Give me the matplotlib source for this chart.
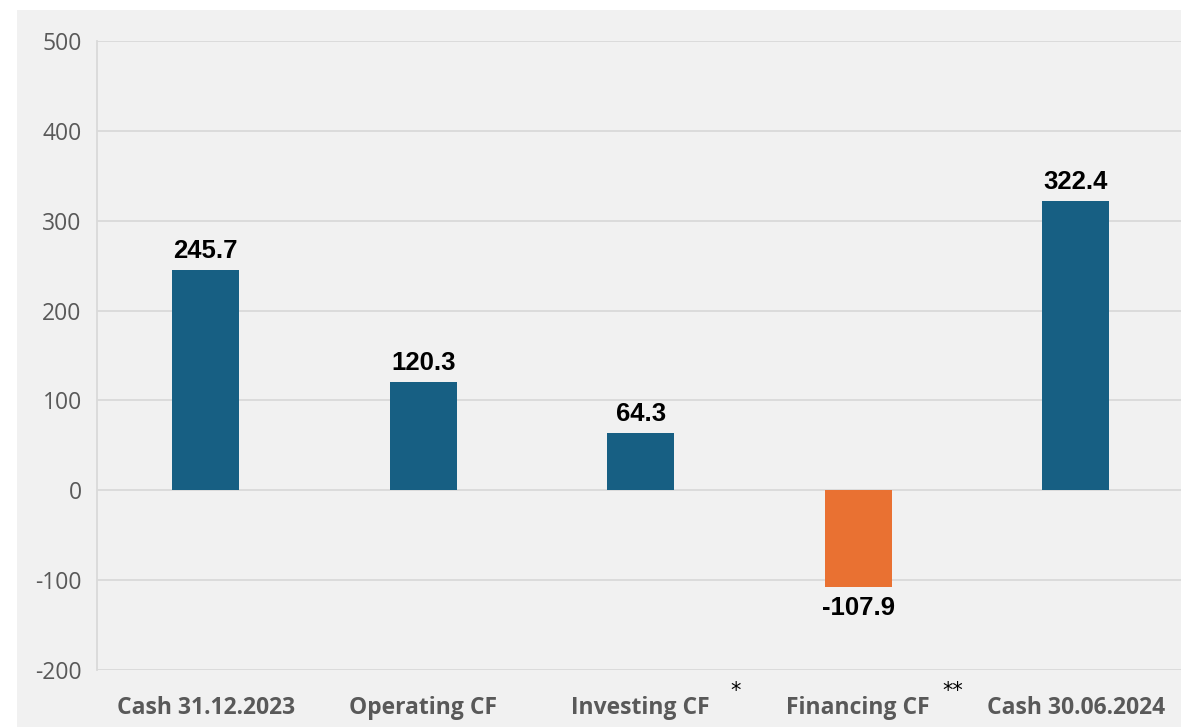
import matplotlib.pyplot as plt
from matplotlib.patches import Rectangle

categories = ["Cash 31.12.2023", "Operating CF", "Investing CF", "Financing CF", "Cash 30.06.2024"]
values = [245.7, 120.3, 64.3, -107.9, 322.4]
labels = ["245.7", "120.3", "64.3", "-107.9", "322.4"]
footnotes = ["", "", "*", "**", ""]
yticks = [-200, -100, 0, 100, 200, 300, 400, 500]

blue = "#175f83"
orange = "#e97132"
colors = [orange if v < 0 else blue for v in values]

fig = plt.figure(figsize=(11.81, 7.27), dpi=100)
fig.patch.set_facecolor("white")
fig.patches.append(Rectangle((17/1181, 0), 1, 1 - 10/727, transform=fig.transFigure,
                             facecolor="#f1f1f1", edgecolor="none", zorder=-10))

ax = fig.add_axes([97/1181, 57/727, 1087.5/1181, 629/727])
ax.set_facecolor("none")
ax.bar(range(len(values)), values, width=0.31, color=colors, zorder=3)
ax.set_xlim(-0.5, 4.5)
ax.set_ylim(-200, 500)
ax.set_yticks(yticks)
ax.set_yticklabels([str(t) for t in yticks], fontsize=16.5, color="#595959", family="Open Sans")
ax.set_xticks(range(len(categories)))
ax.set_xticklabels(categories, fontsize=16.5, color="#595959", family="Open Sans", fontweight="bold")
ax.tick_params(axis="y", length=0, pad=11)
ax.tick_params(axis="x", length=0, pad=19)
ax.grid(axis="y", color="#d9d9d9", linewidth=1.3, zorder=0)
for s in ["top", "right", "bottom"]:
    ax.spines[s].set_visible(False)
ax.spines["left"].set_color("#d9d9d9")
ax.spines["left"].set_linewidth(1.3)

for i, (v, lab) in enumerate(zip(values, labels)):
    if v >= 0:
        ax.annotate(lab, (i, v), xytext=(0, 5), textcoords="offset points", ha="center", va="bottom",
                    fontsize=18.5, fontweight="bold", color="black", family="Liberation Sans")
    else:
        ax.annotate(lab, (i, v), xytext=(0, -6), textcoords="offset points", ha="center", va="top",
                    fontsize=18.5, fontweight="bold", color="black", family="Liberation Sans")

for i, fn in enumerate(footnotes):
    if fn:
        ax.annotate(fn, (i, -200), xytext=(95, -11), textcoords="offset pixels",
                    ha="center", va="top", fontsize=15, color="black", family="DejaVu Sans")

fig.savefig("out.png", dpi=100, facecolor=fig.get_facecolor())
